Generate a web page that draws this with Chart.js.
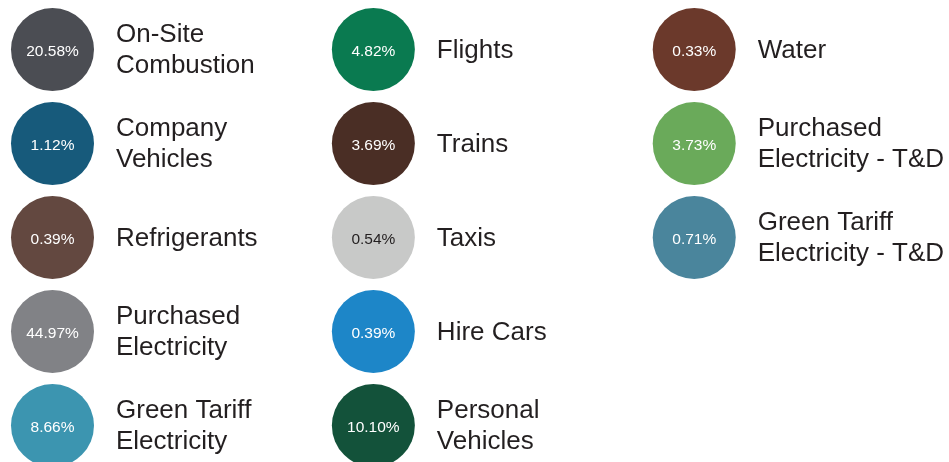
<!DOCTYPE html>
<html>
<head>
<meta charset="utf-8">
<script src="https://cdn.jsdelivr.net/npm/chart.js@4/dist/chart.umd.min.js"></script>
<style>
  html, body { margin: 0; padding: 0; background: #fff; }
  #wrap { width: 949px; height: 462px; }
</style>
</head>
<body>
<div id="wrap"><canvas id="emissionsChart" width="949" height="462"></canvas></div>
<script>
// categories (each one split into the lines it is printed on)
const categories = [
    ['On-Site', 'Combustion'],
    ['Company', 'Vehicles'],
    ['Refrigerants'],
    ['Purchased', 'Electricity'],
    ['Green Tariff', 'Electricity'],
    ['Flights'],
    ['Trains'],
    ['Taxis'],
    ['Hire Cars'],
    ['Personal', 'Vehicles'],
    ['Water'],
    ['Purchased', 'Electricity - T&D'],
    ['Green Tariff', 'Electricity - T&D']
];

// share of emissions, %
const shares = [20.58, 1.12, 0.39, 44.97, 8.66, 4.82, 3.69, 0.54, 0.39, 10.10, 0.33, 3.73, 0.71];

const colours = [
    '#4b4d53', '#175a7b', '#634840', '#818286', '#3c95b0',
    '#0a7a50', '#4a2e25', '#c8c9c8', '#1d86c8', '#13523a',
    '#6b392b', '#6aaa5a', '#4a859c'
];

const perColumn = 5;

document.addEventListener('DOMContentLoaded', function() {
    const ctx = document.getElementById('emissionsChart');

    // grid place comes from the order only
    const points = shares.map((v, i) => ({
        x: Math.floor(i / perColumn),
        y: i % perColumn,
        v: v
    }));

    // percent inside the circle, name to the right
    const labelPlugin = {
        id: 'circleLabels',
        afterDatasetsDraw(chart) {
            const c = chart.ctx;
            const meta = chart.getDatasetMeta(0);
            c.save();
            meta.data.forEach((pt, i) => {
                c.textAlign = 'center';
                c.textBaseline = 'middle';
                c.font = '15.5px "Liberation Sans", Arial, sans-serif';
                c.fillStyle = colours[i] === '#c8c9c8' ? '#231f20' : '#ffffff';
                c.fillText(shares[i].toFixed(2) + '%', pt.x, pt.y + 2);

                const lines = categories[i];
                const lh = 31;
                c.textAlign = 'left';
                c.font = '26px "Liberation Sans", Arial, sans-serif';
                c.fillStyle = '#231f20';
                const top = pt.y + 1 - (lines.length - 1) * lh / 2;
                lines.forEach((ln, k) => c.fillText(ln, pt.x + 63.5, top + k * lh));
            });
            c.restore();
        }
    };

    new Chart(ctx, {
        type: 'scatter',
        data: {
            datasets: [{
                data: points,
                pointRadius: 41.5,
                pointHoverRadius: 41.5,
                pointBackgroundColor: colours,
                pointBorderWidth: 0,
                pointBorderColor: 'rgba(0,0,0,0)',
                clip: false
            }]
        },
        options: {
            responsive: false,
            animation: false,
            events: [],
            layout: { padding: 0, autoPadding: false },
            plugins: {
                legend: { display: false },
                tooltip: { enabled: false }
            },
            scales: {
                x: { display: false, min: -0.1636, max: 2.794 },
                y: { display: false, reverse: true, min: -0.527, max: 4.388 }
            }
        },
        plugins: [labelPlugin]
    });
});
</script>
</body>
</html>
